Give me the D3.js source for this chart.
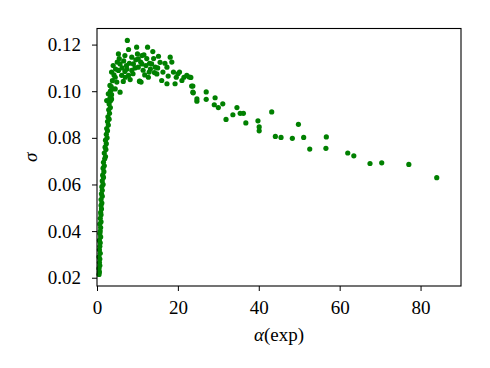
<!DOCTYPE html>
<html lang="en">
<head>
    <meta charset="UTF-8">
    <script src="https://d3js.org/d3.v7.min.js"></script>
    <style>
        body { margin: 0; background: #fff; }
        text { font-family: "Liberation Serif", "DejaVu Serif", serif !important; fill: #000; }
    </style>
</head>
<body>
    <svg id="chart" width="490" height="368"></svg>
    <script>
        // alpha(exp) values
        const alphaExp = [
            // rising branch near x = 0
            0.5, 0.6, 0.5, 0.7, 0.6, 0.7, 0.5, 0.8, 0.6, 0.7, 0.8, 0.6, 0.9, 0.7, 0.8, 0.9,
            0.7, 1.0, 0.8, 1.0, 0.9, 1.1, 1.0, 1.2, 1.0, 1.3, 1.1, 1.3, 1.2, 1.5, 1.3, 1.6,
            1.4, 1.7, 1.5, 1.8, 1.6, 1.9, 2.1, 1.8, 2.2, 2.0, 2.3, 2.1, 2.5, 2.3, 2.6, 2.4,
            2.8, 2.6, 3.0, 2.7, 3.1, 2.9, 3.3, 3.0, 3.4, 3.2, 3.6, 3.3, 3.8, 3.5,
            // dense cluster at the peak
            7.5, 9.8, 7.8, 5.3, 6.9, 8.6, 10.2, 11.1, 4.0, 5.7, 7.3, 9.0, 10.2, 3.6, 5.3, 6.9,
            8.6, 4.5, 6.1, 7.8, 4.9, 6.5, 10.6, 3.2, 4.5, 5.7, 2.8, 3.6, 2.4, 10.5,
            3.8, 4.2, 4.6, 5.0, 5.5, 6.2, 6.6, 7.0, 7.4, 8.0, 8.2, 8.9, 9.4, 9.6, 10.0, 10.8,
            11.4, 11.8, 12.3, 13.0, 13.2, 14.0, 14.2, 15.0, 16.8, 17.6, 19.6, 20.0, 21.5,
            12.5, 11.6, 13.8, 15.2, 18.1, 18.5, 11.1, 12.1, 13.5, 14.4, 15.6, 17.3, 12.9, 14.8,
            16.3, 18.9, 20.4, 22.2, 22.8, 16.0, 17.3, 19.3, 12.7, 21.0, 23.4, 23.7, 24.7, 10.9,
            // decaying tail
            23.2, 23.7, 23.8, 24.7, 27.0, 27.0, 29.2, 29.0, 30.0, 31.1, 31.9, 33.6, 34.6, 35.4,
            36.2, 36.8, 39.8, 40.1, 40.1,
            43.2, 44.1, 45.5, 49.8, 48.3, 51.1, 52.6, 56.7, 56.6, 62.0, 63.5, 67.5, 70.4, 77.1, 84.0
        ];

        // sigma values, same order
        const sigma = [
            0.0214, 0.0225, 0.0240, 0.0252, 0.0265, 0.0280, 0.0290, 0.0305, 0.0320, 0.0335, 0.0350, 0.0360, 0.0375, 0.0390, 0.0400, 0.0415,
            0.0430, 0.0440, 0.0455, 0.0470, 0.0480, 0.0495, 0.0510, 0.0520, 0.0535, 0.0550, 0.0560, 0.0575, 0.0590, 0.0600, 0.0615, 0.0630,
            0.0640, 0.0655, 0.0670, 0.0680, 0.0695, 0.0710, 0.0720, 0.0735, 0.0750, 0.0760, 0.0775, 0.0790, 0.0800, 0.0815, 0.0830, 0.0840,
            0.0855, 0.0870, 0.0880, 0.0890, 0.0905, 0.0920, 0.0930, 0.0945, 0.0960, 0.0970, 0.0985, 0.1000, 0.1010, 0.1020,
            0.1218, 0.1189, 0.1179, 0.1160, 0.1153, 0.1146, 0.1139, 0.1153, 0.1110, 0.1117, 0.1110, 0.1117, 0.1103, 0.1082, 0.1089, 0.1085,
            0.1089, 0.1060, 0.1068, 0.1068, 0.1039, 0.1042, 0.1042, 0.1025, 0.1010, 0.0996, 0.0989, 0.0967, 0.0960, 0.1043,
            0.1045, 0.1070, 0.1095, 0.1125, 0.1140, 0.1100, 0.1130, 0.1060, 0.1095, 0.1120, 0.1050, 0.1075, 0.1100, 0.1135, 0.1160, 0.1125,
            0.1090, 0.1070, 0.1140, 0.1120, 0.1095, 0.1140, 0.1080, 0.1100, 0.1120, 0.1065, 0.1060, 0.1075, 0.1060,
            0.1189, 0.1156, 0.1170, 0.1150, 0.1146, 0.1125, 0.1117, 0.1110, 0.1117, 0.1103, 0.1124, 0.1103, 0.1082, 0.1074,
            0.1082, 0.1082, 0.1082, 0.1068, 0.1061, 0.1046, 0.1032, 0.1032, 0.1060, 0.1046, 0.1022, 0.0996, 0.0967, 0.1039,
            0.1059, 0.1022, 0.0993, 0.0957, 0.0997, 0.0965, 0.0972, 0.0942, 0.0930, 0.0946, 0.0879, 0.0899, 0.0930, 0.0905,
            0.0905, 0.0864, 0.0873, 0.0847, 0.0830,
            0.0911, 0.0806, 0.0802, 0.0858, 0.0798, 0.0802, 0.0752, 0.0804, 0.0755, 0.0735, 0.0723, 0.0690, 0.0693, 0.0686, 0.0629
        ];

        const xTicks = [0, 20, 40, 60, 80];
        const yTicks = [0.02, 0.04, 0.06, 0.08, 0.10, 0.12];

        const data = alphaExp.map((a, i) => ({ a: a, s: sigma[i] }));

        const svg = d3.select("#chart");
        const margin = { top: 28.5, right: 29, bottom: 82, left: 97 };
        const width = 490 - margin.left - margin.right;
        const height = 368 - margin.top - margin.bottom;
        const g = svg.append("g").attr("transform", `translate(${margin.left},${margin.top})`);

        const x = d3.scaleLinear().domain([0, 90]).range([0, width]);
        const y = d3.scaleLinear().domain([0.01645, 0.1269]).range([height, 0]);

        g.selectAll("circle.pt")
            .data(data)
            .join("circle")
            .attr("class", "pt")
            .attr("cx", d => x(d.a))
            .attr("cy", d => y(d.s))
            .attr("r", 2.6)
            .attr("fill", "#008000");

        // frame
        g.append("rect")
            .attr("width", width)
            .attr("height", height)
            .attr("fill", "none")
            .attr("stroke", "#000")
            .attr("stroke-width", 1.1);

        const xAxis = g.append("g")
            .attr("transform", `translate(0,${height})`)
            .call(d3.axisBottom(x).tickValues(xTicks).tickSize(5).tickPadding(10).tickFormat(d3.format("d")));
        const yAxis = g.append("g")
            .call(d3.axisLeft(y).tickValues(yTicks).tickSize(5).tickPadding(11).tickFormat(d3.format(".2f")));

        [xAxis, yAxis].forEach(ax => {
            ax.select(".domain").remove();
            ax.selectAll(".tick line").attr("stroke", "#000").attr("stroke-width", 1);
            ax.selectAll(".tick text").attr("font-size", 19).attr("fill", "#000");
        });

        svg.append("text")
            .attr("x", margin.left + width / 2)
            .attr("y", 341)
            .attr("text-anchor", "middle")
            .attr("font-size", 19)
            .html('<tspan font-style="italic">α</tspan>(exp)');

        svg.append("text")
            .attr("transform", `translate(37,${margin.top + height / 2}) rotate(-90)`)
            .attr("text-anchor", "middle")
            .attr("font-size", 19)
            .attr("font-style", "italic")
            .text("σ");
    </script>
</body>
</html>
